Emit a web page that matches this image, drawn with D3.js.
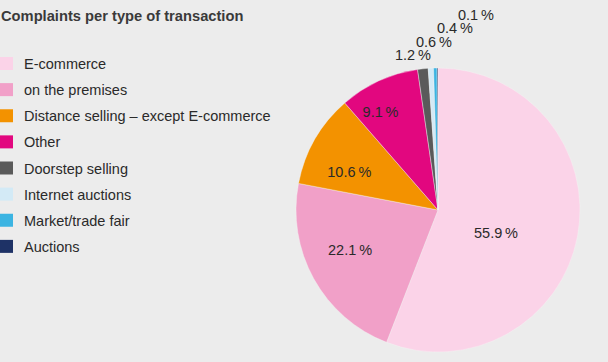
<!DOCTYPE html>
<html>
<head>
<meta charset="utf-8">
<script src="https://cdn.jsdelivr.net/npm/d3@7"></script>
<style>
  body { margin: 0; background: #ececec; }
  svg { display: block; font-family: "Liberation Sans", Arial, sans-serif; }
</style>
</head>
<body>
<div id="chart"></div>
<script>
const categories = ["E-commerce", "on the premises", "Distance selling \u2013 except E-commerce",
    "Other", "Doorstep selling", "Internet auctions", "Market/trade fair", "Auctions"];
const shares = [55.9, 22.1, 10.6, 9.1, 1.2, 0.6, 0.4, 0.1];
const colors = ["#fbd3e8", "#f1a0c8", "#f39200", "#e2077f", "#5a5a5a", "#d3eaf6", "#3bb4e2", "#1e3266"];
const title = "Complaints per type of transaction";

const width = 608, height = 362;
const svg = d3.select("#chart").append("svg")
    .attr("width", width)
    .attr("height", height);

svg.append("rect").attr("width", width).attr("height", height).attr("fill", "#ececec");

svg.append("text")
    .attr("x", 1)
    .attr("y", 21)
    .style("font-size", "14.7px")
    .style("font-weight", "bold")
    .attr("fill", "#3a3a3a")
    .text(title);

// legend
const legendY = d3.scaleBand().domain(categories).range([57, 266]);
const legend = svg.append("g").selectAll("g")
    .data(categories)
    .enter().append("g")
    .attr("transform", d => `translate(0,${legendY(d)})`);
legend.append("rect")
    .attr("width", 13).attr("height", 13)
    .attr("fill", (d, i) => colors[i]);
legend.append("text")
    .attr("x", 24).attr("y", 12)
    .style("font-size", "14.5px")
    .attr("fill", "#2a2a2a")
    .text(d => d);

// pie
const cx = 438, cy = 210, radius = 142;
const pie = d3.pie().sort(null).value(d => d);
const arcs = pie(shares);
const arc = d3.arc().innerRadius(0).outerRadius(radius);
const g = svg.append("g").attr("transform", `translate(${cx},${cy})`);

g.selectAll("path")
    .data(arcs)
    .enter().append("path")
    .attr("d", arc)
    .attr("fill", (d, i) => colors[i])
    .attr("stroke", "#f4f4f4")
    .attr("stroke-width", 0.4);

const fmt = v => d3.format(".1f")(v) + "\u2009%";

// labels inside big slices, nudged a little off the centroid line
const big = arcs.filter(d => d.data >= 5);
const labelPos = d => {
    const mid = (d.startAngle + d.endAngle) / 2;
    let r = radius * 0.68, a = mid;
    if (d.index === 0) { r = radius * 0.44; a = mid + 0.195; }
    else if (d.index === 1) { a = mid + 0.08; }
    else if (d.index === 2) { a = mid - 0.115; }
    else { r = radius * 0.8; a = mid - 0.1; }
    return [Math.sin(a) * r, -Math.cos(a) * r];
};
g.selectAll("text.in")
    .data(big)
    .enter().append("text")
    .attr("class", "in")
    .attr("transform", d => `translate(${labelPos(d)})`)
    .attr("text-anchor", "middle")
    .attr("dy", "0.35em")
    .style("font-size", "14.5px")
    .attr("fill", "#2a2a2a")
    .text(d => fmt(d.data));

// stepped labels for the thin slices
const small = arcs.filter(d => d.data < 5);
g.selectAll("text.out")
    .data(small)
    .enter().append("text")
    .attr("class", "out")
    .attr("x", (d, i) => -25 + i * 21)
    .attr("y", (d, i) => -155 - i * 13.3)
    .attr("text-anchor", "middle")
    .attr("dy", "0.35em")
    .style("font-size", "14.5px")
    .attr("fill", "#2a2a2a")
    .text(d => fmt(d.data));
</script>
</body>
</html>
